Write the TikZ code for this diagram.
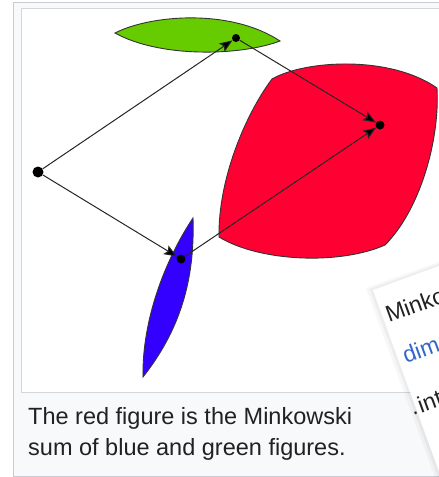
\documentclass[tikz,border=0pt]{standalone}
\usepackage{fontspec}
\setmainfont{Liberation Sans}
\usetikzlibrary{arrows.meta}
\definecolor{framebg}{HTML}{F8F9FA}
\definecolor{framebd}{HTML}{C8CCD1}
\definecolor{txt}{HTML}{202122}
\definecolor{lnk}{HTML}{3366CC}
\definecolor{gfill}{HTML}{66CC00}
\definecolor{bfill}{HTML}{3300FF}
\definecolor{rfill}{HTML}{FF0033}
\begin{document}
\begin{tikzpicture}[x=1pt,y=-1pt,
  dotnode/.style={circle,fill=black,inner sep=0pt,minimum size=#1},
  arr/.style={draw=black!85,line width=1pt,-{Stealth[length=13pt,width=10pt,inset=2.5pt,fill=black]}},
  figline/.style={draw=black!80,line width=0.9pt},
  captext/.style={anchor=base west,inner sep=0pt,text=txt,font=\fontsize{23.5}{28}\selectfont},
  cardtext/.style={anchor=base west,inner sep=0pt,rotate=20,font=\fontsize{23}{28}\selectfont}]
\useasboundingbox (0,0) rectangle (439,477);
\clip (0,0) rectangle (439,477);
\fill[white] (0,0) rectangle (439,477);
% frames
\draw[framebd,fill=framebg] (13.5,2.5) rectangle (470,476.5);
\draw[framebd!80,fill=white] (21.5,8.5) rectangle (470,392.5);
% red figure
\draw[figline,fill=rfill] (272,79) .. controls (305,60) and (390,55) .. (437,88)
  .. controls (440,140) and (420,210) .. (385,245)
  .. controls (340,265) and (260,262) .. (219,237)
  .. controls (218,180) and (245,115) .. (272,79) -- cycle;
% green figure
\draw[figline,fill=gfill] (115,33) .. controls (150,15) and (230,8) .. (280,41)
  .. controls (240,56) and (160,58) .. (115,33) -- cycle;
% blue figure
\draw[figline,fill=bfill] (193,218) .. controls (195,280) and (180,330) .. (143,377)
  .. controls (142,320) and (165,260) .. (193,218) -- cycle;
% points
\node[dotnode=11pt] (o) at (38,172) {};
\node[dotnode=8pt] (g) at (236,38) {};
\node[dotnode=9pt] (b) at (181,259) {};
\node[dotnode=9pt] (r) at (380,125) {};
% arrows
\draw[arr] (o) -- (g);
\draw[arr] (o) -- (b);
\draw[arr] (g) -- (r);
\draw[arr] (b) -- (r);
% caption
\node[captext] (cap1) at (28,424) {The red figure is the Minkowski};
\node[captext] (cap2) at (28,455) {sum of blue and green figures.};
% overlapping card
\begin{scope}[shift={(373,290)},rotate=20]
  \fill[black,opacity=0.03] (-6,-4) rectangle (260,320);
  \fill[black,opacity=0.04] (-3,-2) rectangle (260,315);
  \fill[white] (0,0) rectangle (260,310);
\end{scope}
\node[cardtext,text=txt] (c1) at (389,323) {Minko};
\node[cardtext,text=lnk] (c2) at (406,364) {dim};
\node[cardtext,text=txt] (c3) at (413,416) {.\kern2pt int};
\end{tikzpicture}
\end{document}
